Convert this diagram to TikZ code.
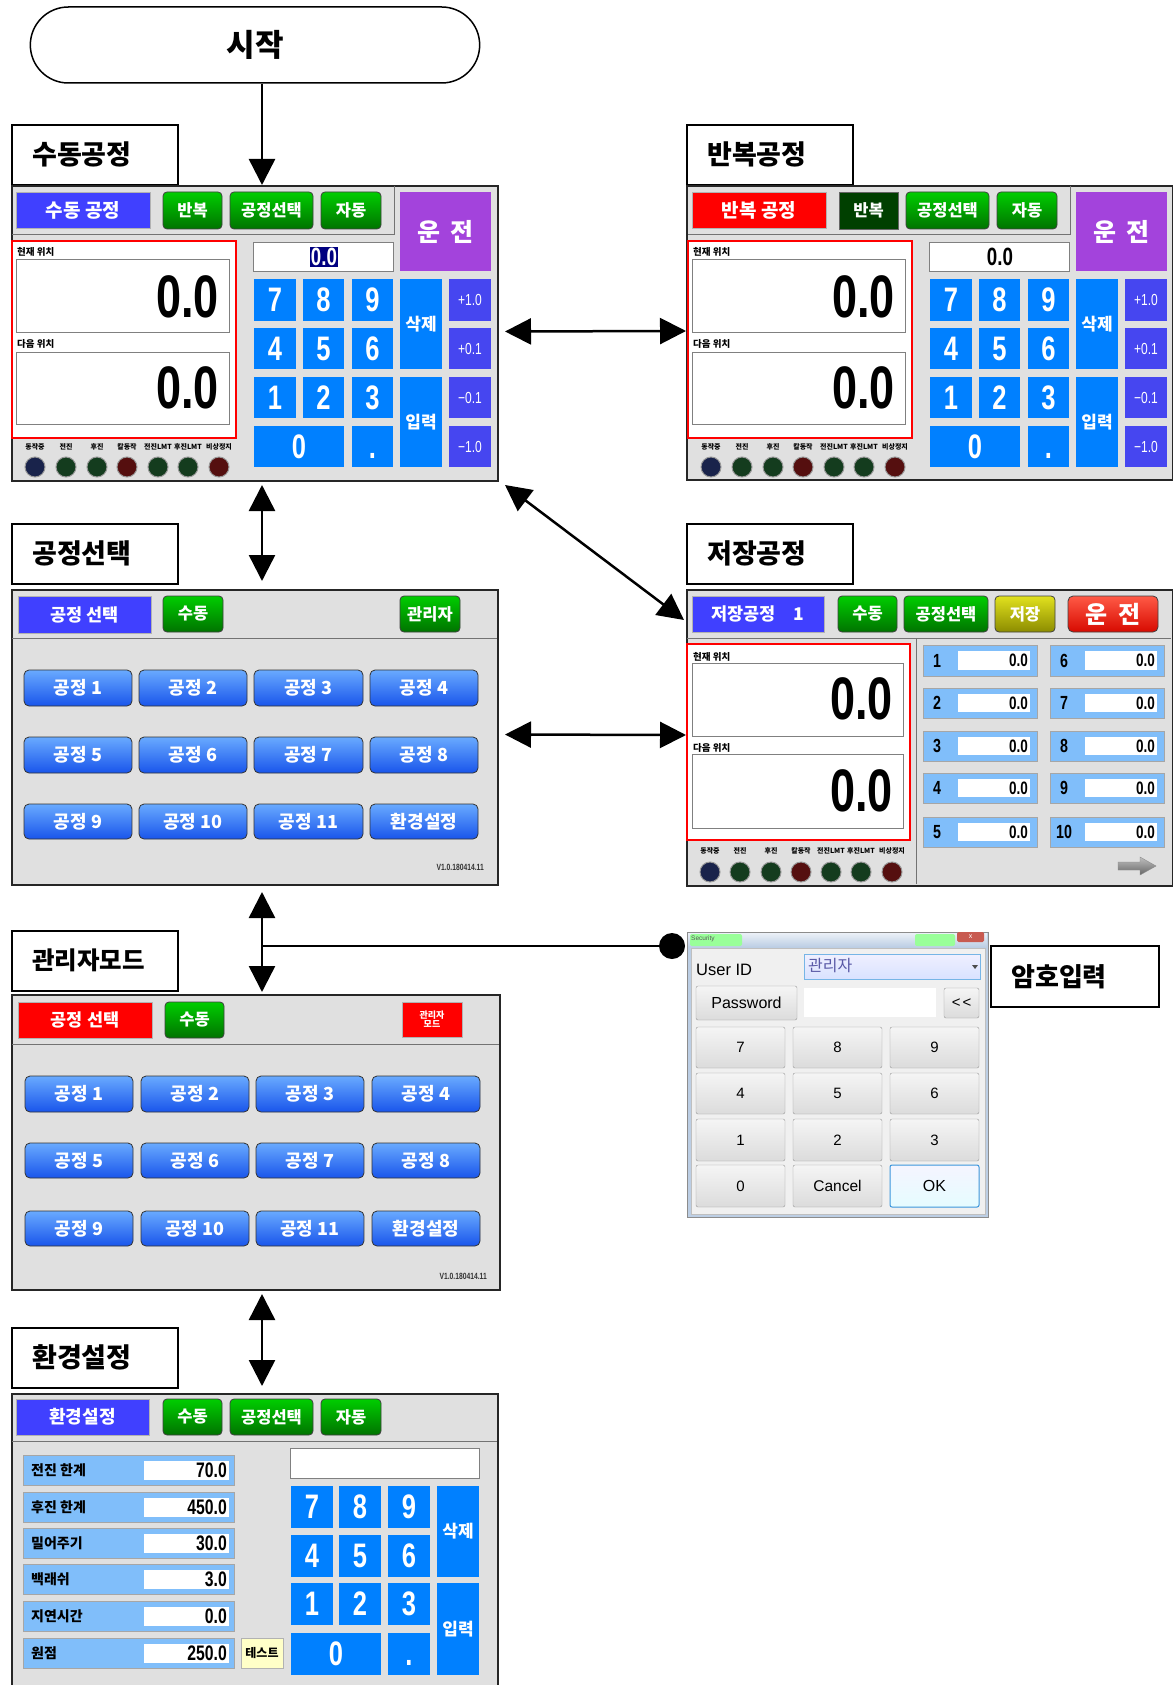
\documentclass[tikz,border=0pt]{standalone}
\usepackage{fontspec}
\setmainfont{Liberation Sans}
\newfontfamily\kr{Noto Sans CJK KR}
\newfontfamily\nar{Liberation Sans}[FakeStretch=0.75]
\usetikzlibrary{arrows.meta,calc,shapes.misc}
\definecolor{panelbg}{RGB}{224,224,224}
\definecolor{tblue}{RGB}{64,64,255}
\definecolor{tred}{RGB}{255,0,0}
\definecolor{gtop}{RGB}{0,205,0}
\definecolor{gbot}{RGB}{0,115,0}
\definecolor{gdark}{RGB}{0,64,0}
\definecolor{purp}{RGB}{163,67,220}
\definecolor{kblue}{RGB}{0,128,255}
\definecolor{pblue}{RGB}{70,70,240}
\definecolor{btop}{RGB}{105,170,255}
\definecolor{bbot}{RGB}{25,85,235}
\definecolor{lblue}{RGB}{128,190,250}
\definecolor{navy}{RGB}{0,0,128}
\definecolor{ytop}{RGB}{225,225,30}
\definecolor{ybot}{RGB}{140,140,0}
\definecolor{rtop}{RGB}{255,90,70}
\definecolor{rbot}{RGB}{215,10,0}
\definecolor{lampb}{RGB}{25,35,75}
\definecolor{lampg}{RGB}{20,60,30}
\definecolor{lampr}{RGB}{85,15,15}
\definecolor{dlgbg}{RGB}{240,240,240}
\definecolor{dframe}{RGB}{188,206,228}
\definecolor{dclose}{RGB}{200,90,80}
\definecolor{ytest}{RGB}{255,255,200}
\definecolor{okline}{RGB}{60,150,220}
\tikzset{
 fk/.style={font=\kr\bfseries\fontsize{#1}{#1}\selectfont},
 fn/.style={font=\nar\bfseries\fontsize{#1}{#1}\selectfont},
 fnr/.style={font=\nar\fontsize{#1}{#1}\selectfont},
 fs/.style={font=\fontsize{#1}{#1}\selectfont},
 W/.style={text=white},
 panel/.style={draw=black!85,line width=2pt,fill=panelbg,anchor=north west,inner sep=0pt},
 lbl/.style={draw=black,line width=1.6pt,fill=white,anchor=north west,inner sep=0pt,minimum width=166pt,minimum height=60pt},
 sepline/.style={draw=black!55,line width=1pt},
 gbtn/.style={rounded corners=4pt,draw=black!75,top color=gtop,bottom color=gbot,line width=0.8pt},
 dgbtn/.style={fill=gdark,draw=black!60},
 ybtn/.style={rounded corners=4pt,draw=black!75,top color=ytop,bottom color=ybot,line width=0.8pt},
 rbtn/.style={rounded corners=5pt,draw=black!75,top color=rtop,bottom color=rbot,line width=0.8pt},
 bbtn/.style={rounded corners=5pt,draw=black!80,top color=btop,bottom color=bbot,line width=0.8pt},
 kbtn/.style={fill=kblue},
 pbtn/.style={fill=pblue},
 disp/.style={fill=white,draw=black!50,line width=0.8pt},
 dbtn/.style={rounded corners=2pt,draw=black!40,top color=white!96!black,bottom color=black!14},
 okbtn/.style={rounded corners=2pt,draw=okline,line width=1pt,top color=blue!4!white,bottom color=blue!12!cyan!10!white},
 arr/.style={line width=2.5pt,-{Triangle[length=26pt,width=26pt]}},
 dbl/.style={line width=2.5pt,{Triangle[length=26pt,width=26pt]}-{Triangle[length=26pt,width=26pt]}},
}
\newcounter{nc}
\newcommand\ui[7][]{\path[#2] (#3,#4) rectangle (#5,#6);\stepcounter{nc}\node[inner sep=0pt,#1] (u\arabic{nc}) at ({(#3+#5)/2},{(#4+#6)/2}) {#7};}
\newcommand\tx[4][]{\stepcounter{nc}\node[inner sep=0pt,#1] (t\arabic{nc}) at ({#2},{#3}) {#4};}
\newcommand\lab[6][]{\node[lbl,#1] (#2) at (#3,#4) {};\stepcounter{nc}\node[anchor=west,inner sep=0pt,fk=#5] (t\arabic{nc}) at ($(#2.west)+(21,0)$) {#6};}
\newcommand\kp[5]{\ui[W,fn=34]{kbtn}{#1}{#2}{#3}{#4}{#5}}
\newcommand\gb[5]{\ui[W,fk=18]{bbtn}{#1}{#2}{#3}{#4}{#5}}
\newcommand\lamp[3]{\stepcounter{nc}\node[circle,inner sep=0pt,minimum size=20pt,fill=#3,draw=black!40,line width=1pt] (lp\arabic{nc}) at (#1,#2) {};}
\newcommand\lamps[9]{%
 \tx[fk=7]{#3}{#1}{동작중}\tx[fk=7]{#4}{#1}{전진}\tx[fk=7]{#5}{#1}{후진}\tx[fk=7]{#6}{#1}{칼동작}%
 \tx[fk=7]{#7}{#1}{전진LMT}\tx[fk=7]{#8}{#1}{후진LMT}\tx[fk=7]{#9}{#1}{비상정지}%
 \lamp{#3}{#2}{lampb}\lamp{#4}{#2}{lampg}\lamp{#5}{#2}{lampg}\lamp{#6}{#2}{lampr}%
 \lamp{#7}{#2}{lampg}\lamp{#8}{#2}{lampg}\lamp{#9}{#2}{lampr}}
\newcommand\manual[4]{%
 \draw[sepline] (12,235) -- (394,235) (394,186) -- (394,235);
 \ui[W,fk=19]{fill=#1,draw=black!30}{16}{192}{150}{228}{#2}
 \ui[W,fk=16.5]{#3}{163}{192}{222}{229}{반복}
 \ui[W,fk=16.5]{gbtn}{230}{192}{313}{229}{공정선택}
 \ui[W,fk=16.5]{gbtn}{321}{192}{381}{229}{자동}
 \ui[W,fk=25]{fill=purp}{400}{192}{491}{271}{운\hspace{10pt}전}
 \path[fill=white,draw=red,line width=2.5pt] (12,241) rectangle (236,438);
 \tx[anchor=west,fk=9.5]{17}{252}{현재 위치}
 \path[disp] (16,259) rectangle (229,332);
 \tx[anchor=east,fn=60]{219}{297}{0.0}
 \tx[anchor=west,fk=9.5]{17}{344}{다음 위치}
 \path[disp] (16,352) rectangle (229,424);
 \tx[anchor=east,fn=60]{219}{388}{0.0}
 \path[disp] (253,242) rectangle (393,271);
 \tx[fn=25,#4]{324}{257}{0.0}
 \kp{254}{279}{296}{321}{7}\kp{303}{279}{344}{321}{8}\kp{352}{279}{393}{321}{9}
 \kp{254}{328}{296}{369}{4}\kp{303}{328}{344}{369}{5}\kp{352}{328}{393}{369}{6}
 \kp{254}{377}{296}{418}{1}\kp{303}{377}{344}{418}{2}\kp{352}{377}{393}{418}{3}
 \kp{254}{426}{344}{467}{0}\kp{352}{426}{393}{467}{\vphantom{0}.}
 \ui[W,fk=17]{kbtn}{400}{279}{442}{369}{삭제}
 \ui[W,fk=17]{kbtn}{400}{377}{442}{467}{입력}
 \ui[W,fnr=16]{pbtn}{449}{279}{491}{321}{+1.0}
 \ui[W,fnr=16]{pbtn}{449}{328}{491}{369}{+0.1}
 \ui[W,fnr=16]{pbtn}{449}{377}{491}{418}{−0.1}
 \ui[W,fnr=16]{pbtn}{449}{426}{491}{467}{−1.0}
 \lamps{447}{467}{35}{66}{97}{127}{158}{188}{219}
}
\newcommand\srow[5]{%
 \path[fill=lblue,draw=black!35] (#1,#2) rectangle (#3,#4);
 \path[fill=white] ({#1+35},{#2+6}) rectangle ({#3-7},{#4-6});
 \tx[fn=19]{#1+14}{(#2+#4)/2}{#5}
 \tx[anchor=east,fn=18]{#3-9}{(#2+#4)/2}{0.0}}
\newcommand\setrow[4]{%
 \path[fill=lblue,draw=black!35] (23,#1) rectangle (234,#2);
 \path[fill=white] (144,{#1+6}) rectangle (229,{#2-5});
 \tx[anchor=west,fk=14]{31}{(#1+#2)/2}{#3}
 \tx[anchor=east,fn=21]{227}{(#1+#2)/2}{#4}}
\begin{document}
\begin{tikzpicture}[x=1pt,y=-1pt]
\useasboundingbox (0,0) rectangle (1172,1685);
\fill[white] (0,0) rectangle (1172,1685);
% ---------- start + labels ----------
\node[rounded rectangle,draw,line width=1.5pt,minimum width=456pt,minimum height=76pt,fk=31] (start) at (255,45) {시작};
\coordinate (ax) at (262,0);
\lab{l1}{11}{124}{27}{수동공정}
\lab{l2}{686}{124}{27}{반복공정}
\lab{l3}{11}{523}{27}{공정선택}
\lab{l4}{686}{523}{27}{저장공정}
\lab{l5}{11}{930}{24.5}{관리자모드}
\lab{l6}{11}{1327}{27}{환경설정}
\lab[minimum width=168pt,minimum height=61pt]{l7}{990}{945}{26}{암호입력}
% ---------- panels ----------
\node[panel,minimum width=486pt,minimum height=295pt] (p1) at (11,185) {};
\node[panel,minimum width=486pt,minimum height=294pt] (p2) at (686,185) {};
\node[panel,minimum width=486pt,minimum height=295pt] (p3) at (11,589) {};
\node[panel,minimum width=486pt,minimum height=296pt] (p4) at (686,589) {};
\node[panel,minimum width=488pt,minimum height=295pt] (p5) at (11,994) {};
\node[panel,minimum width=486pt,minimum height=320pt] (p6) at (11,1393) {};
% ---------- panel 1 & 2 ----------
\manual{tblue}{수동 공정}{gbtn}{fill=navy,text=white,inner sep=1pt}
\begin{scope}[shift={(676,0)}]
\manual{tred}{반복 공정}{dgbtn}{text=black}
\end{scope}
% ---------- panel 3 ----------
\ui[W,fk=17.5]{fill=tblue,draw=black!30}{18}{596}{151}{633}{공정 선택}
\ui[W,fk=16.5]{gbtn}{163}{596}{223}{632}{수동}
\ui[W,fk=16.5]{gbtn}{400}{596}{460}{632}{관리자}
\draw[sepline] (12,638) -- (497,638);
\gb{24}{670}{132}{706}{공정 1}\gb{139}{670}{247}{706}{공정 2}\gb{254}{670}{363}{706}{공정 3}\gb{370}{670}{478}{706}{공정 4}
\gb{24}{737}{132}{773}{공정 5}\gb{139}{737}{247}{773}{공정 6}\gb{254}{737}{363}{773}{공정 7}\gb{370}{737}{478}{773}{공정 8}
\gb{24}{804}{132}{839}{공정 9}\gb{139}{804}{247}{839}{공정 10}\gb{254}{804}{363}{839}{공정 11}\gb{370}{804}{478}{839}{환경설정}
\tx[anchor=east,fn=9,text=black!80]{484}{867}{V1.0.180414.11}
% ---------- panel 5 ----------
\ui[W,fk=17.5]{fill=tred,draw=black!30}{18}{1002}{152}{1038}{공정 선택}
\ui[W,fk=16.5]{gbtn}{165}{1002}{224}{1038}{수동}
\ui[W,fk=9,align=center]{fill=tred,draw=black!30}{402}{1002}{462}{1037}{관리자\\모드}
\draw[sepline] (12,1044) -- (499,1044);
\gb{25}{1076}{133}{1112}{공정 1}\gb{141}{1076}{249}{1112}{공정 2}\gb{256}{1076}{364}{1112}{공정 3}\gb{372}{1076}{480}{1112}{공정 4}
\gb{25}{1143}{133}{1178}{공정 5}\gb{141}{1143}{249}{1178}{공정 6}\gb{256}{1143}{364}{1178}{공정 7}\gb{372}{1143}{480}{1178}{공정 8}
\gb{25}{1211}{133}{1246}{공정 9}\gb{141}{1211}{249}{1246}{공정 10}\gb{256}{1211}{364}{1246}{공정 11}\gb{372}{1211}{480}{1246}{환경설정}
\tx[anchor=east,fn=9,text=black!80]{487}{1276}{V1.0.180414.11}
% ---------- panel 4 ----------
\ui[W,fk=17.5]{fill=tblue,draw=black!30}{692}{596}{824}{632}{저장공정\hspace{18pt}1}
\ui[W,fk=16.5]{gbtn}{838}{596}{897}{632}{수동}
\ui[W,fk=16.5]{gbtn}{904}{596}{988}{632}{공정선택}
\ui[W,fk=16.5]{ybtn}{995}{596}{1055}{632}{저장}
\ui[W,fk=24]{rbtn}{1068}{596}{1158}{632}{운\hspace{10pt}전}
\draw[sepline] (687,638) -- (1171,638) (916,638) -- (916,884);
\path[fill=white,draw=red,line width=2.5pt] (687,644) rectangle (910,840);
\tx[anchor=west,fk=9.5]{693}{657}{현재 위치}
\path[disp] (692,663) rectangle (903,736);
\tx[anchor=east,fn=60]{893}{699}{0.0}
\tx[anchor=west,fk=9.5]{693}{748}{다음 위치}
\path[disp] (692,754) rectangle (903,828);
\tx[anchor=east,fn=60]{893}{791}{0.0}
\lamps{851}{872}{710}{740}{771}{801}{831}{861}{892}
\srow{923}{645}{1037}{676}{1}\srow{1050}{645}{1164}{676}{6}
\srow{923}{688}{1037}{718}{2}\srow{1050}{688}{1164}{718}{7}
\srow{923}{731}{1037}{761}{3}\srow{1050}{731}{1164}{761}{8}
\srow{923}{773}{1037}{803}{4}\srow{1050}{773}{1164}{803}{9}
\srow{923}{817}{1037}{847}{5}\srow{1050}{817}{1164}{847}{10}
\path[top color=black!25,bottom color=black!60,draw=black!45] (1118,862) -- (1140,862) -- (1140,857) -- (1156,866) -- (1140,875) -- (1140,870) -- (1118,870) -- cycle;
% ---------- panel 6 ----------
\ui[W,fk=18]{fill=tblue,draw=black!30}{16}{1399}{149}{1435}{환경설정}
\ui[W,fk=16.5]{gbtn}{163}{1399}{222}{1435}{수동}
\ui[W,fk=16.5]{gbtn}{230}{1399}{313}{1435}{공정선택}
\ui[W,fk=16.5]{gbtn}{321}{1399}{381}{1435}{자동}
\draw[sepline] (12,1441) -- (497,1441);
\setrow{1455}{1485}{전진 한계}{70.0}
\setrow{1492}{1522}{후진 한계}{450.0}
\setrow{1528}{1558}{밀어주기}{30.0}
\setrow{1564}{1594}{백래쉬}{3.0}
\setrow{1601}{1631}{지연시간}{0.0}
\setrow{1638}{1668}{원점}{250.0}
\ui[fk=12]{fill=ytest,draw=black!30}{241}{1638}{283}{1668}{테스트}
\path[disp] (290,1448) rectangle (479,1478);
\kp{291}{1486}{333}{1528}{7}\kp{339}{1486}{381}{1528}{8}\kp{388}{1486}{430}{1528}{9}
\kp{291}{1535}{333}{1577}{4}\kp{339}{1535}{381}{1577}{5}\kp{388}{1535}{430}{1577}{6}
\kp{291}{1583}{333}{1625}{1}\kp{339}{1583}{381}{1625}{2}\kp{388}{1583}{430}{1625}{3}
\kp{291}{1633}{381}{1675}{0}\kp{388}{1633}{430}{1675}{\vphantom{0}.}
\ui[W,fk=17]{kbtn}{437}{1486}{479}{1577}{삭제}
\ui[W,fk=17]{kbtn}{437}{1583}{479}{1675}{입력}
% ---------- security dialog ----------
\path[fill=dframe,draw=black!45] (687,932) rectangle (988,1217);
\path[top color=white!70!dframe,bottom color=dframe] (688,933) rectangle (987,947);
\path[fill=green!40!white,rounded corners=2pt] (690,934) rectangle (742,946);
\path[fill=green!40!white,rounded corners=2pt] (915,934) rectangle (955,946);
\tx[anchor=west,fs=6.5,text=black!65]{691}{939}{Security}
\ui[W,fs=7]{fill=dclose,rounded corners=1.5pt}{957}{932}{984}{942}{x}
\path[fill=dlgbg,draw=black!25] (691,948) rectangle (985,1214);
\tx[anchor=west,fs=16.5]{696}{970}{User ID}
\path[top color=blue!6!white,bottom color=cyan!25!blue!15!white,draw=okline!70] (804,954) rectangle (980,979);
\tx[anchor=west,font=\kr\fontsize{16}{16}\selectfont,text=blue!30!gray]{808}{966}{관리자}
\fill[black!70] (972,965) -- (978,965) -- (975,969) -- cycle;
\ui[fs=16]{dbtn}{696}{986}{797}{1020}{Password}
\path[fill=white] (804,988) rectangle (936,1017);
\ui[fs=15]{dbtn}{944}{988}{979}{1018}{<\hspace{2pt}<}
\ui[fs=15]{dbtn}{696}{1027}{785}{1068}{7}\ui[fs=15]{dbtn}{793}{1027}{882}{1068}{8}\ui[fs=15]{dbtn}{890}{1027}{979}{1068}{9}
\ui[fs=15]{dbtn}{696}{1073}{785}{1114}{4}\ui[fs=15]{dbtn}{793}{1073}{882}{1114}{5}\ui[fs=15]{dbtn}{890}{1073}{979}{1114}{6}
\ui[fs=15]{dbtn}{696}{1119}{785}{1161}{1}\ui[fs=15]{dbtn}{793}{1119}{882}{1161}{2}\ui[fs=15]{dbtn}{890}{1119}{979}{1161}{3}
\ui[fs=15]{dbtn}{696}{1165}{785}{1207}{0}\ui[fs=15.5]{dbtn}{793}{1165}{882}{1207}{Cancel}\ui[fs=16]{okbtn}{890}{1165}{979}{1207}{OK}
% ---------- connectors ----------
\draw[arr] (start.south -| ax) -- (ax |- p1.north);
\draw[dbl,shorten <=6pt] ($(p1.east)+(0,-2)$) -- ($(p2.west)+(0,-2)$);
\draw[dbl] ($(p1.south east)+(6,3)$) -- ($(p4.north west)+(-2,31)$);
\draw[dbl,shorten <=3pt,shorten >=8pt] (ax |- p1.south) -- (ax |- p3.north);
\draw[dbl,shorten <=6pt] ($(p3.east)+(0,-3)$) -- ($(p4.west)+(0,-3)$);
\draw[dbl,shorten <=6pt,shorten >=2pt] (ax |- p3.south) -- (ax |- p5.north);
\node[circle,fill=black,minimum size=26pt,inner sep=0pt] (dot) at (672,946) {};
\draw[line width=2.5pt] (ax |- dot) -- (dot);
\draw[dbl,shorten <=3pt,shorten >=7pt] (ax |- p5.south) -- (ax |- p6.north);
\end{tikzpicture}
\end{document}
